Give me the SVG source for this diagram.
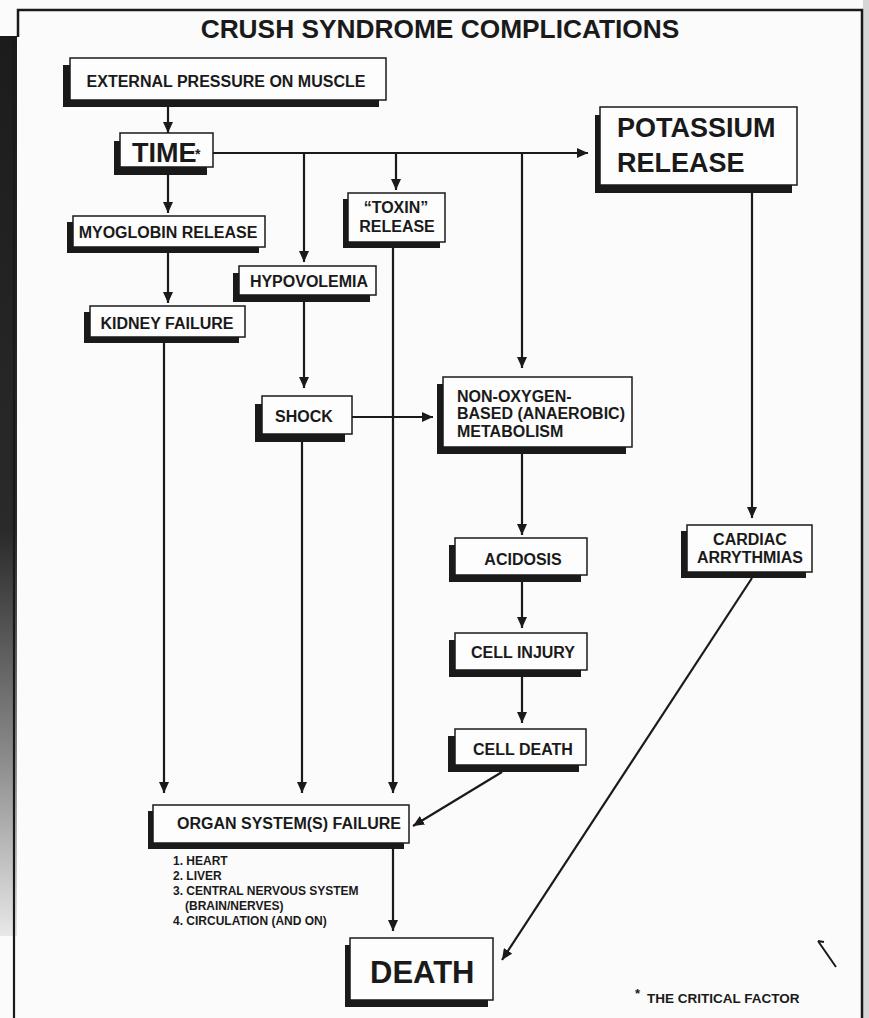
<svg xmlns="http://www.w3.org/2000/svg" width="869" height="1018" viewBox="0 0 869 1018">
<defs>
<marker id="ah" markerUnits="userSpaceOnUse" markerWidth="11" markerHeight="10" refX="11" refY="5" orient="auto">
<path d="M0,0 L11,5 L0,10 z" fill="#1a1a1a"/>
</marker>
<linearGradient id="band" x1="0" y1="0" x2="0" y2="1">
<stop offset="0" stop-color="#1c1c1c"/>
<stop offset="0.55" stop-color="#2a2a2a"/>
<stop offset="0.8" stop-color="#8a8a8a"/>
<stop offset="1" stop-color="#e8e8e8"/>
</linearGradient>
<style>
.sh{fill:#1a1a1a}
.bx{fill:#fdfdfd;stroke:#1a1a1a;stroke-width:1.5}
.t{font-family:"Liberation Sans",Arial,sans-serif;font-weight:bold;fill:#1a1a1a}
.s16{font-size:16px}
.c{text-anchor:middle}
.cn{fill:none;stroke:#1a1a1a;stroke-width:2.2;marker-end:url(#ah)}
.ln{fill:none;stroke:#1a1a1a;stroke-width:2.2}
</style>
</defs>
<rect width="869" height="1018" fill="#fbfbfb"/>
<g id="frame">
<rect x="0" y="36" width="17" height="900" fill="url(#band)"/>
<rect x="863" y="0" width="6" height="1018" fill="#d6d6d6"/>
<path d="M14,36 V1018" class="ln" stroke-width="3"/>
<path d="M18,37 V10 H862 V1018" fill="none" stroke="#1a1a1a" stroke-width="2.5"/>
</g>
<text id="title" class="t c" x="440" y="38" font-size="26.3">CRUSH SYNDROME COMPLICATIONS</text>

<g id="connectors">
<path class="cn" d="M168,107 V133"/>
<path class="cn" d="M168,175 V213"/>
<path class="cn" d="M213,153 H588"/>
<path class="cn" d="M304,153 V262"/>
<path class="cn" d="M396,153 V190"/>
<path class="cn" d="M522,153 V368"/>
<path class="cn" d="M168,253 V303"/>
<path class="cn" d="M304,302 V388"/>
<path class="cn" d="M352,417 H433"/>
<path class="cn" d="M752,193 V518"/>
<path class="cn" d="M164,343 V793"/>
<path class="cn" d="M302,442 V793"/>
<path class="cn" d="M393,248 V793"/>
<path class="cn" d="M522,454 V535"/>
<path class="cn" d="M522,582 V628"/>
<path class="cn" d="M522,677 V723"/>
<path class="cn" d="M502,772 L413,826"/>
<path class="cn" d="M393,849 V931"/>
<path class="cn" d="M752,578 L502,960"/>
</g>

<g id="n-external">
<rect class="sh" x="63" y="65" width="316" height="42"/>
<rect class="bx" x="70" y="58" width="316" height="42"/>
<text class="t s16 c" x="226" y="87">EXTERNAL PRESSURE ON MUSCLE</text>
</g>
<g id="n-time">
<rect class="sh" x="114" y="141" width="93" height="34"/>
<rect class="bx" x="120" y="133" width="93" height="34"/>
<text class="t" x="132" y="162" font-size="27">TIME</text>
<text class="t" x="195" y="159" font-size="14">*</text>
</g>
<g id="n-myoglobin">
<rect class="sh" x="67" y="222" width="192" height="31"/>
<rect class="bx" x="73" y="216" width="192" height="31"/>
<text class="t s16 c" x="168" y="238">MYOGLOBIN RELEASE</text>
</g>
<g id="n-toxin">
<rect class="sh" x="343" y="199" width="97" height="49"/>
<rect class="bx" x="348" y="193" width="97" height="49"/>
<text class="t s16 c" x="396" y="213">“TOXIN”</text>
<text class="t s16 c" x="397" y="232">RELEASE</text>
</g>
<g id="n-hypovolemia">
<rect class="sh" x="233" y="273" width="137" height="29"/>
<rect class="bx" x="239" y="266" width="137" height="29"/>
<text class="t s16 c" x="309" y="287">HYPOVOLEMIA</text>
</g>
<g id="n-potassium">
<rect class="sh" x="595" y="115" width="197" height="78"/>
<rect class="bx" x="600" y="107" width="197" height="78"/>
<text class="t" x="617" y="137" font-size="27">POTASSIUM</text>
<text class="t" x="617" y="172" font-size="27">RELEASE</text>
</g>
<g id="n-kidney">
<rect class="sh" x="84" y="312" width="155" height="31"/>
<rect class="bx" x="90" y="306" width="155" height="31"/>
<text class="t s16 c" x="167" y="329">KIDNEY FAILURE</text>
</g>
<g id="n-shock">
<rect class="sh" x="255" y="404" width="90" height="38"/>
<rect class="bx" x="262" y="396" width="90" height="38"/>
<text class="t s16 c" x="304" y="422">SHOCK</text>
</g>
<g id="n-nonoxygen">
<rect class="sh" x="437" y="384" width="189" height="70"/>
<rect class="bx" x="443" y="377" width="189" height="70"/>
<text class="t s16" x="457" y="402">NON-OXYGEN-</text>
<text class="t s16" x="457" y="419">BASED (ANAEROBIC)</text>
<text class="t s16" x="457" y="437">METABOLISM</text>
</g>
<g id="n-acidosis">
<rect class="sh" x="449" y="545" width="132" height="37"/>
<rect class="bx" x="455" y="538" width="132" height="37"/>
<text class="t s16 c" x="523" y="565">ACIDOSIS</text>
</g>
<g id="n-cardiac">
<rect class="sh" x="681" y="531" width="125" height="47"/>
<rect class="bx" x="687" y="525" width="125" height="47"/>
<text class="t s16 c" x="750" y="545">CARDIAC</text>
<text class="t s16 c" x="750" y="563">ARRYTHMIAS</text>
</g>
<g id="n-cellinjury">
<rect class="sh" x="449" y="640" width="132" height="37"/>
<rect class="bx" x="455" y="633" width="132" height="37"/>
<text class="t s16 c" x="523" y="658">CELL INJURY</text>
</g>
<g id="n-celldeath">
<rect class="sh" x="448" y="736" width="131" height="36"/>
<rect class="bx" x="455" y="729" width="131" height="36"/>
<text class="t s16 c" x="523" y="755">CELL DEATH</text>
</g>
<g id="n-organ">
<rect class="sh" x="148" y="811" width="256" height="38"/>
<rect class="bx" x="153" y="805" width="256" height="38"/>
<text class="t s16" x="177" y="829">ORGAN SYSTEM(S) FAILURE</text>
<g class="t" font-size="12">
<text x="173" y="865">1. HEART</text>
<text x="173" y="880">2. LIVER</text>
<text x="173" y="895">3. CENTRAL NERVOUS SYSTEM</text>
<text x="185" y="910">(BRAIN/NERVES)</text>
<text x="173" y="925">4. CIRCULATION (AND ON)</text>
</g>
</g>
<g id="n-death">
<rect class="sh" x="345" y="945" width="143" height="62"/>
<rect class="bx" x="350" y="938" width="143" height="62"/>
<text class="t" x="370" y="983" font-size="31">DEATH</text>
</g>
<g id="footnote">
<text class="t" x="635" y="998" font-size="13">*</text>
<text class="t" x="647" y="1003" font-size="13.5">THE CRITICAL FACTOR</text>
<path d="M836,967 L818,941 M818,941 L824,942" fill="none" stroke="#1a1a1a" stroke-width="2"/>
</g>
</svg>
